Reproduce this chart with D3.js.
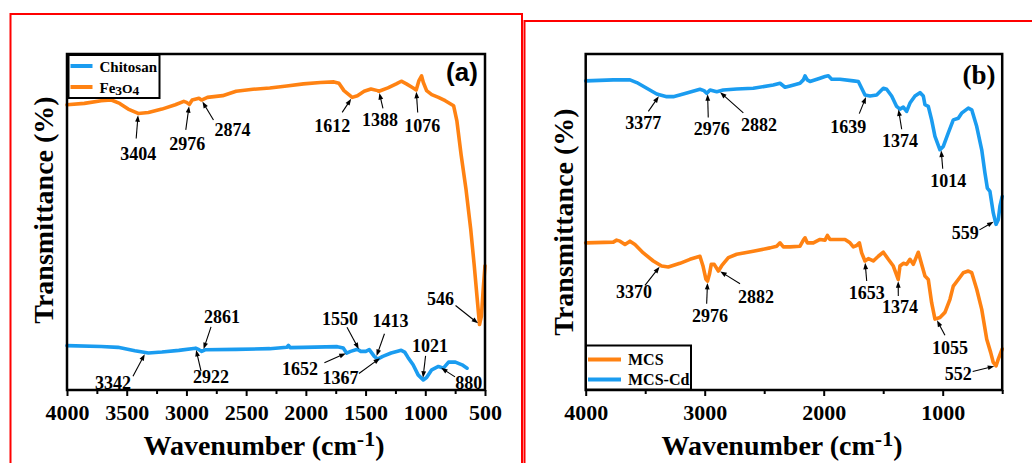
<!DOCTYPE html>
<html>
<head>
<meta charset="utf-8">
<script src="https://cdn.jsdelivr.net/npm/d3@7"></script>
<style>
  html, body { margin: 0; padding: 0; background: #fff; }
  svg { display: block; }
</style>
</head>
<body>
<svg id="fig" width="1032" height="463"></svg>
<script>
// ---------- data: FTIR spectra, [wavenumber (cm-1), transmittance (a.u.)] ----------
const xMajorA = [4000, 3500, 3000, 2500, 2000, 1500, 1000, 500];
const xMinorA = [3750, 3250, 2750, 2250, 1750, 1250, 750];
const xMajorB = [4000, 3000, 2000, 1000];
const xMinorB = [3500, 2500, 1500, 500];

const chitosan = [
  [4000,13.2],[3714,12.95],[3573,12.7],[3432,11.7],[3318,11.0],[3205,11.3],[3064,11.8],
  [2923,12.45],[2895,12.0],[2872,11.5],[2839,12.0],[2584,12.1],[2302,12.3],[2160,12.7],
  [2146,13.3],[2132,12.6],[2020,12.7],[1737,12.9],[1687,12.5],[1659,11.0],[1625,11.5],
  [1568,12.1],[1540,11.5],[1498,11.5],[1469,12.0],[1427,10.0],[1399,9.2],[1356,10.0],
  [1286,11.0],[1201,11.8],[1173,11.3],[1145,9.7],[1102,7.5],[1060,4.5],[1017,3.0],
  [989,3.7],[946,6.0],[890,7.0],[848,6.5],[805,8.3],[748,8.3],[692,7.5],[650,6.5]
];

const fe3o4 = [
  [4000,84.9],[3855,85.3],[3714,86.1],[3629,86.3],[3559,85.3],[3488,83.6],[3404,82.3],
  [3318,82.6],[3205,83.6],[3093,84.9],[3022,85.9],[2999,85.6],[2976,85.0],[2952,86.3],
  [2895,86.8],[2874,86.3],[2824,87.1],[2697,87.6],[2584,88.9],[2443,89.5],[2302,89.9],
  [2160,90.5],[2020,91.1],[1878,91.5],[1765,91.7],[1723,91.3],[1681,89.1],[1612,87.1],
  [1568,87.6],[1512,88.9],[1455,89.6],[1399,89.1],[1388,88.9],[1313,89.9],[1243,91.1],
  [1201,91.9],[1158,91.1],[1101,89.9],[1076,89.3],[1053,92.1],[1031,93.5],[1017,91.6],
  [989,89.1],[946,87.9],[890,87.1],[833,86.1],[763,84.6],[735,80.0],[700,70.0],
  [660,60.0],[620,48.0],[590,37.0],[565,27.0],[546,19.5],[530,22.0],[515,30.0],[500,37.0]
];

const mcsCd = [
  [4000,92.0],[3768,92.3],[3628,92.3],[3571,91.5],[3487,89.8],[3403,88.1],[3319,87.3],
  [3264,87.3],[3180,88.1],[3040,89.5],[3006,89.1],[2983,88.3],[2955,89.3],[2899,88.8],
  [2844,89.3],[2731,89.6],[2592,89.8],[2424,90.8],[2367,91.3],[2325,90.1],[2283,90.5],
  [2199,91.3],[2171,92.3],[2157,93.5],[2138,92.3],[2115,91.8],[2031,92.8],[1989,93.3],
  [1961,93.5],[1933,92.5],[1863,92.5],[1751,92.0],[1709,91.8],[1681,89.8],[1653,87.8],
  [1611,87.5],[1555,87.8],[1499,89.8],[1471,89.5],[1429,87.5],[1387,84.4],[1359,83.6],
  [1331,84.2],[1303,82.9],[1275,85.4],[1233,87.5],[1191,88.5],[1163,87.5],[1149,84.9],
  [1121,84.4],[1093,80.4],[1065,75.5],[1023,71.5],[995,72.5],[953,76.5],[911,80.4],
  [869,80.9],[841,82.4],[785,83.9],[756,83.4],[714,78.4],[672,71.5],[645,64.6],
  [625,60.1],[603,59.1],[575,52.7],[552,49.3],[533,50.7],[519,54.7],[500,57.6]
];

const mcs = [
  [4000,43.8],[3768,44.0],[3740,44.6],[3712,44.3],[3670,43.3],[3628,44.3],[3586,43.3],
  [3516,40.8],[3432,38.4],[3362,36.9],[3306,36.6],[3208,37.7],[3124,38.9],[3040,39.8],
  [3015,37.0],[2990,33.0],[2976,32.4],[2960,34.5],[2945,37.4],[2920,37.4],[2885,35.4],
  [2857,37.0],[2801,39.4],[2731,40.4],[2592,41.3],[2451,42.3],[2395,42.8],[2367,43.8],
  [2339,42.6],[2283,42.6],[2199,42.8],[2171,44.6],[2157,45.3],[2138,43.8],[2087,43.8],
  [2031,44.8],[1989,44.6],[1969,46.0],[1947,44.8],[1891,44.8],[1821,44.8],[1779,43.8],
  [1751,42.6],[1723,43.0],[1700,43.8],[1681,40.8],[1653,38.4],[1625,39.1],[1583,38.4],
  [1541,39.8],[1499,41.0],[1457,38.9],[1415,36.9],[1374,32.9],[1359,36.9],[1331,37.7],
  [1303,37.4],[1275,38.9],[1247,37.4],[1205,41.0],[1177,37.4],[1149,33.9],[1121,32.9],
  [1093,26.0],[1065,21.1],[1023,21.6],[981,23.1],[939,27.0],[911,30.9],[869,32.9],
  [827,34.9],[785,35.4],[756,34.9],[714,30.0],[672,24.0],[630,15.1],[597,11.2],
  [575,8.2],[552,7.2],[533,9.2],[500,12.2]
];

// labelled band positions (cm-1)
const fe3o4Peaks    = [3404, 2976, 2874, 1612, 1388, 1076, 546];
const chitosanPeaks = [3342, 2922, 2861, 1652, 1550, 1413, 1367, 1021, 880];
const mcsCdPeaks    = [3377, 2976, 2882, 1639, 1374, 1014, 559];
const mcsPeaks      = [3370, 2976, 2882, 1653, 1374, 1055, 552];

// ---------- layout: label offsets from the arrow tip [textDx, textDy, tailDx, tailDy] ----------
const fe3o4Offsets = [[0,40,-2,25],[-2,39.5,-3.5,25.5],[31,30,12,20],[-20,28,-10,15],[1,29,4,17],[6,36,1.5,22.6],[-39,-25.5,-24,-19]];
const chitosanOffsets = [[-32.6,30.5,-12.6,23.7],[15.3,28.5,5.3,23],[19,-34,8,-24],[-47.5,16,-23,10],[-19.6,-32,-12.6,-23.5],[14.6,-36.5,8.5,-24],[-41,21,-22.5,16.4],[7.2,-34,2.8,-23.6],[29.2,15.5,15.4,10]];
const mcsCdOffsets = [[-16.5,28.3,-11.5,16.6],[4.1,36,0.7,25],[40.3,33.3,24.6,21.7],[-18.4,31,-7.4,18.3],[1.8,33.3,3.5,21.6],[7.3,32.3,1.7,20],[-30,12.3,-15.7,9]];
const mcsOffsets = [[-26.7,26.6,-15.7,20],[2.4,35,-0.9,22.7],[37.3,26,21.3,13.3],[1.7,31.6,1.7,20],[1.8,27.6,0.1,16.6],[13.8,29,8.8,16.6],[-37.7,7.7,-23.3,5.7]];

const ORANGE = "#ff8212";
const BLUE = "#1a9cf0";
const SERIF = "'Liberation Serif','Times New Roman',serif";
const SANS = "'Liberation Sans',Arial,sans-serif";

const svg = d3.select("#fig");

// panel borders
const border = svg.append("g").attr("stroke", "#f00").attr("stroke-width", 2).attr("fill", "none");
border.append("path").attr("d", "M10.5,470 V14 H522 V470");
border.append("path").attr("d", "M524.5,470 V21 H1040");

function valueAt(series, w) {
  for (let i = 0; i < series.length - 1; i++) {
    const [w0, v0] = series[i], [w1, v1] = series[i + 1];
    if (w <= w0 && w >= w1) {
      const t = w0 === w1 ? 0 : (w0 - w) / (w0 - w1);
      return v0 + (v1 - v0) * t;
    }
  }
  return series[series.length - 1][1];
}

function drawPanel(cfg) {
  const g = svg.append("g");
  const x = d3.scaleLinear().domain([4000, 500]).range([cfg.left, cfg.right]);
  const y = d3.scaleLinear().domain([0, 100]).range([cfg.bottom, cfg.top]);

  // minor ticks
  const minor = g.append("g").attr("transform", `translate(0,${cfg.bottom})`)
    .call(d3.axisBottom(x).tickValues(cfg.minor).tickSize(4).tickFormat(""));
  minor.select(".domain").remove();
  minor.selectAll("line").attr("stroke", "#000").attr("stroke-width", 2);

  // major ticks with labels
  const major = g.append("g").attr("transform", `translate(0,${cfg.bottom})`)
    .call(d3.axisBottom(x).tickValues(cfg.major).tickSize(6).tickFormat(d3.format("d")));
  major.select(".domain").remove();
  major.selectAll("line").attr("stroke", "#000").attr("stroke-width", 2);
  major.selectAll("text").attr("y", 30).attr("dy", null).attr("fill", "#000")
    .style("font-family", SERIF).style("font-weight", "bold").style("font-size", "22px");

  // spectra
  const line = d3.line().x(d => x(d[0])).y(d => y(d[1]));
  cfg.series.forEach(s => {
    g.append("path").attr("d", line(s.data)).attr("fill", "none")
      .attr("stroke", s.color).attr("stroke-width", 3.6)
      .attr("stroke-linejoin", "round").attr("stroke-linecap", "round");
  });

  // plot frame
  g.append("rect").attr("x", cfg.left).attr("y", cfg.top)
    .attr("width", cfg.right - cfg.left).attr("height", cfg.bottom - cfg.top)
    .attr("fill", "none").attr("stroke", "#000").attr("stroke-width", 2.5);

  // band annotations with arrows
  const ann = g.append("g");
  cfg.series.forEach(s => {
    s.peaks.forEach((w, i) => {
      const [tdx, tdy, adx, ady] = s.offsets[i];
      const hx = x(w), hy = y(valueAt(s.data, w));
      const txp = hx + adx, typ = hy + ady;
      const len = Math.hypot(hx - txp, hy - typ);
      const ux = (hx - txp) / len, uy = (hy - typ) / len;
      const tipX = hx - ux * 1.8, tipY = hy - uy * 1.8;
      const nx = -uy, ny = ux;
      const hl = 6.5, hw = 2.4;
      ann.append("line").attr("x1", txp).attr("y1", typ)
        .attr("x2", tipX - ux * (hl - 1)).attr("y2", tipY - uy * (hl - 1))
        .attr("stroke", "#000").attr("stroke-width", 1.1);
      ann.append("path")
        .attr("d", `M${tipX},${tipY} L${tipX - ux * hl + nx * hw},${tipY - uy * hl + ny * hw} L${tipX - ux * hl - nx * hw},${tipY - uy * hl - ny * hw} Z`)
        .attr("fill", "#000");
      ann.append("text").attr("x", hx + tdx).attr("y", hy + tdy + 6.2)
        .attr("text-anchor", "middle").attr("fill", "#000")
        .style("font-family", SERIF).style("font-weight", "bold").style("font-size", "18px")
        .text(w);
    });
  });

  // axis titles
  const xt = g.append("text").attr("x", cfg.xTitleX).attr("y", 455)
    .attr("text-anchor", "middle").attr("fill", "#000")
    .style("font-family", SERIF).style("font-weight", "bold").style("font-size", "28px");
  xt.append("tspan").text("Wavenumber (cm");
  xt.append("tspan").attr("dy", -9).style("font-size", "22px").text("-1");
  xt.append("tspan").attr("dy", 9).text(")");

  g.append("text")
    .attr("transform", `translate(${cfg.yTitleX},${cfg.yTitleY}) rotate(-90)`)
    .attr("text-anchor", "middle").attr("fill", "#000")
    .style("font-family", SERIF).style("font-weight", "bold").style("font-size", "28px")
    .text("Transmittance (%)");

  // panel tag
  g.append("text").attr("x", cfg.tag.x).attr("y", cfg.tag.y).attr("text-anchor", "middle")
    .attr("fill", "#000").style("font-family", cfg.tag.font).style("font-weight", "bold")
    .style("font-size", cfg.tag.size + "px").text(cfg.tag.text);

  // legend
  const L = cfg.legend;
  const lg = g.append("g");
  lg.append("rect").attr("x", L.x).attr("y", L.y).attr("width", L.w).attr("height", L.h)
    .attr("fill", "#fff").attr("stroke", "#000").attr("stroke-width", 2);
  L.items.forEach((it, i) => {
    const yy = L.y + L.firstRow + i * L.rowGap;
    lg.append("line").attr("x1", L.x + 2).attr("x2", L.x + 2 + L.swatch)
      .attr("y1", yy).attr("y2", yy).attr("stroke", it.color).attr("stroke-width", 4);
    const t = lg.append("text").attr("x", L.x + L.swatch + 9).attr("y", yy + 5.5)
      .attr("fill", "#000").style("font-family", SERIF).style("font-weight", "bold")
      .style("font-size", L.font + "px");
    it.parts.forEach(p => {
      const sp = t.append("tspan").text(p.t);
      if (p.low) sp.attr("dy", p.low).style("font-size", (L.font * 0.9) + "px");
    });
  });
}

// (a) chitosan and Fe3O4
drawPanel({
  left: 67, right: 485, top: 54, bottom: 390,
  major: xMajorA, minor: xMinorA,
  series: [
    { data: fe3o4, color: ORANGE, peaks: fe3o4Peaks, offsets: fe3o4Offsets },
    { data: chitosan, color: BLUE, peaks: chitosanPeaks, offsets: chitosanOffsets }
  ],
  xTitleX: 264, yTitleX: 53, yTitleY: 210,
  tag: { text: "(a)", x: 462, y: 81, font: SANS, size: 26 },
  legend: {
    x: 68.5, y: 55, w: 91, h: 43, swatch: 22, firstRow: 11, rowGap: 21, font: 15,
    items: [
      { color: BLUE, parts: [{ t: "Chitosan" }] },
      { color: ORANGE, parts: [{ t: "Fe" }, { t: "3", low: 2.5 }, { t: "O", low: -2.5 }, { t: "4", low: 2.5 }] }
    ]
  }
});

// (b) MCS and MCS-Cd
drawPanel({
  left: 585.7, right: 1002.2, top: 54, bottom: 390,
  major: xMajorB, minor: xMinorB,
  series: [
    { data: mcsCd, color: BLUE, peaks: mcsCdPeaks, offsets: mcsCdOffsets },
    { data: mcs, color: ORANGE, peaks: mcsPeaks, offsets: mcsOffsets }
  ],
  xTitleX: 782, yTitleX: 573, yTitleY: 222,
  tag: { text: "(b)", x: 979, y: 84, font: SERIF, size: 27 },
  legend: {
    x: 586, y: 345.5, w: 105, h: 44, swatch: 33, firstRow: 14, rowGap: 20, font: 16,
    items: [
      { color: ORANGE, parts: [{ t: "MCS" }] },
      { color: BLUE, parts: [{ t: "MCS-Cd" }] }
    ]
  }
});
</script>
</body>
</html>
